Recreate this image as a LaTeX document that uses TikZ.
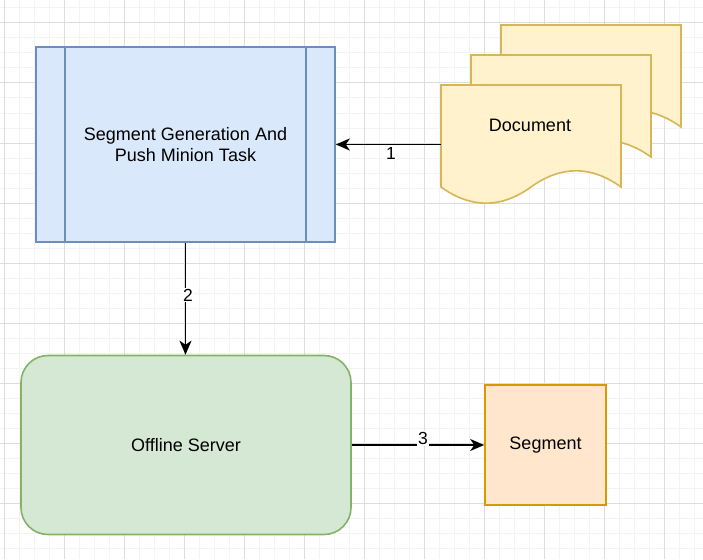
\documentclass[tikz,border=0pt]{standalone}
\usepackage{fontspec}
\setmainfont{Liberation Sans}
\usetikzlibrary{arrows.meta}
\definecolor{procfill}{HTML}{DAE8FC}
\definecolor{procline}{HTML}{6C8EBF}
\definecolor{docfill}{HTML}{FFF2CC}
\definecolor{docline}{HTML}{D6B656}
\definecolor{srvfill}{HTML}{D5E8D4}
\definecolor{srvline}{HTML}{82B366}
\definecolor{segfill}{HTML}{FFE6CC}
\definecolor{segline}{HTML}{D79B00}
\definecolor{gridminor}{HTML}{F3F3F3}
\definecolor{gridmajor}{HTML}{DDDDDD}
\newcommand\docshape[2]{%
  \draw[docstyle] (#1,#2) -- ({#1+180},#2) -- ({#1+180},{#2+102})
    .. controls ({#1+150},{#2+80.4}) and ({#1+120},{#2+80.4}) .. ({#1+90},{#2+102})
    .. controls ({#1+60},{#2+123.6}) and ({#1+30},{#2+123.6}) .. (#1,{#2+102}) -- cycle;}
\tikzset{
  every node/.style={font=\fontsize{18}{21.6}\selectfont, text=black},
  docstyle/.style={fill=docfill, draw=docline, line width=1.6pt, line join=miter},
  conn/.style={line width=1.8pt, -{Stealth[length=14pt,width=12pt,inset=4pt]}},
  elabel/.style={fill=white, inner sep=1pt, font=\fontsize{17.5}{19}\selectfont},
}
\begin{document}
\begin{tikzpicture}[x=1pt,y=-1pt]
\useasboundingbox (0,0) rectangle (703,559);
\fill[white] (0,0) rectangle (703,559);
% grid
\foreach \gx in {4,19,...,703} \draw[gridminor, line width=1pt] (\gx,0) -- (\gx,559);
\foreach \gy in {8,23,...,559} \draw[gridminor, line width=1pt] (0,\gy) -- (703,\gy);
\foreach \gx in {4,64,...,703} \draw[gridmajor, line width=1pt] (\gx,0) -- (\gx,559);
\foreach \gy in {23,83,...,559} \draw[gridmajor, line width=1pt] (0,\gy) -- (703,\gy);
% process box
\node[draw=procline, fill=procfill, line width=1.6pt, minimum width=299pt, minimum height=195pt, inner sep=0pt, align=center] (proc) at (185.5,144.5) {Segment Generation And\\Push Minion Task};
\draw[procline, line width=1.6pt] ([xshift=30pt]proc.north west) -- ([xshift=30pt]proc.south west);
\draw[procline, line width=1.6pt] ([xshift=-30pt]proc.north east) -- ([xshift=-30pt]proc.south east);
% document stack
\docshape{501}{25}
\docshape{471}{55}
\docshape{441}{85}
\node (doc) at (530,125.5) {Document};
\coordinate (docL) at (441,144.5);
% offline server
\node[draw=srvline, fill=srvfill, line width=1.6pt, rounded corners=27pt, minimum width=330pt, minimum height=179pt, inner sep=0pt] (srv) at (186,445) {Offline Server};
% segment
\node[draw=segline, fill=segfill, line width=1.6pt, minimum width=121pt, minimum height=120pt, inner sep=0pt] (seg) at (545.5,445) {Segment};
% connectors
\draw[conn] (docL) -- (proc.east);
\draw[conn] (proc.south) -- (proc.south |- srv.north);
\draw[conn] (srv.east) -- (seg.west);
% labels
\node[elabel] (l1) at (391,153) {1};
\node[elabel] (l2) at (188,295) {2};
\node[elabel] (l3) at (423,438.5) {3};
\end{tikzpicture}
\end{document}
